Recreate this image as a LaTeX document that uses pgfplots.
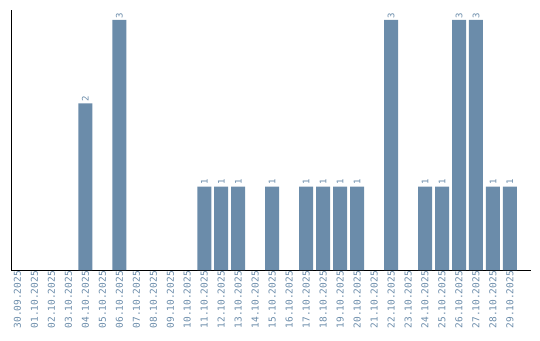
\documentclass[border=0pt]{standalone}
\usepackage{pgfplots}
\pgfplotsset{compat=1.18}
\usepackage{fontspec}
\setmainfont{DejaVu Sans Mono}
\definecolor{barc}{RGB}{107,140,170}
\begin{document}
\begin{tikzpicture}[x=1pt,y=1pt]
\useasboundingbox (0,0) rectangle (540,340);
\begin{axis}[
  at={(11pt,70pt)}, anchor=south west,
  scale only axis, width=520pt, height=260pt,
  xmin=-0.38, xmax=30.24, ymin=0, ymax=3.12,
  axis x line*=bottom, axis y line*=left,
  axis line style={black, line width=0.9pt, -},
  ytick=\empty,
  xtick={0,...,29},
  xticklabels={30.09.2025,01.10.2025,02.10.2025,03.10.2025,04.10.2025,05.10.2025,06.10.2025,07.10.2025,08.10.2025,09.10.2025,10.10.2025,11.10.2025,12.10.2025,13.10.2025,14.10.2025,15.10.2025,16.10.2025,17.10.2025,18.10.2025,19.10.2025,20.10.2025,21.10.2025,22.10.2025,23.10.2025,24.10.2025,25.10.2025,26.10.2025,27.10.2025,28.10.2025,29.10.2025},
  major tick length=0pt,
  xticklabel style={rotate=90, anchor=east, font=\fontsize{9.5}{10}\selectfont, text=barc, inner sep=1pt, xshift=0pt},
  clip=false,
]
\addplot[ybar, bar width=14pt, fill=barc, draw=none,
  nodes near coords, point meta=explicit symbolic,
  nodes near coords style={rotate=90, anchor=west, font=\fontsize{9}{10}\selectfont, text=barc, inner sep=1.5pt}]
  table[meta=l] {
x y l
4 2 2
6 3 3
11 1 1
12 1 1
13 1 1
15 1 1
17 1 1
18 1 1
19 1 1
20 1 1
22 3 3
24 1 1
25 1 1
26 3 3
27 3 3
28 1 1
29 1 1
};
\end{axis}
\end{tikzpicture}
\end{document}
